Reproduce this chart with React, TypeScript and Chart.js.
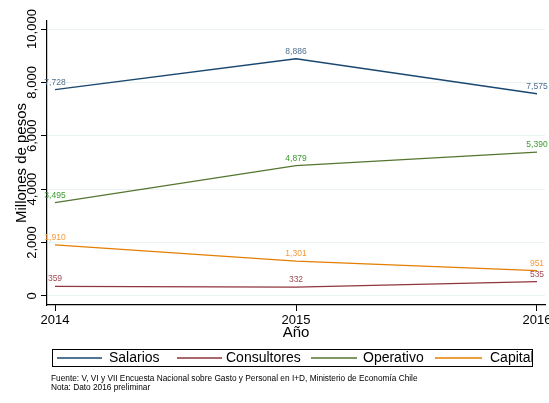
import React, { useEffect, useRef } from "react";
import { Chart, registerables } from "chart.js";

Chart.register(...registerables);

const years = [2014, 2015, 2016];
const salarios = [7728, 8886, 7575];
const consultores = [359, 332, 535];
const operativo = [3495, 4879, 5390];
const capital = [1910, 1301, 951];
const yTicks = [0, 2000, 4000, 6000, 8000, 10000];
const seriesNames = ["Salarios", "Consultores", "Operativo", "Capital"];
const lineColors = ["#1a476f", "#90353b", "#55752f", "#e37e00"];
const labelColors = ["#4f6f90", "#a04a52", "#3a9a30", "#f59a3a"];
const yTitle = "Millones de pesos";
const xTitle = "Año";
const notes = [
  "Fuente: V, VI y VII Encuesta Nacional sobre Gasto y Personal en I+D, Ministerio de Economía Chile",
  "Nota: Dato 2016 preliminar",
];

const FONT = "'Liberation Sans', Arial, Helvetica, sans-serif";
const fmt = (v: number) => v.toLocaleString("en-US");

const drawPlugin = {
  id: "stataDecor",
  afterDraw(chart: any) {
    const ctx = chart.ctx as CanvasRenderingContext2D;
    const xs = chart.scales.x;
    const ys = chart.scales.y;
    const area = chart.chartArea;
    ctx.save();
    ctx.fillStyle = "#000";
    // y tick labels (rotated)
    ctx.font = `13px ${FONT}`;
    ctx.textAlign = "center";
    ctx.textBaseline = "alphabetic";
    yTicks.forEach((t) => {
      const py = ys.getPixelForValue(t);
      ctx.save();
      ctx.translate(35.5, py);
      ctx.rotate(-Math.PI / 2);
      ctx.fillText(fmt(t), 0, 0);
      ctx.restore();
    });
    // y title
    ctx.font = `15px ${FONT}`;
    ctx.save();
    ctx.translate(26, (area.top + area.bottom) / 2);
    ctx.rotate(-Math.PI / 2);
    ctx.fillText(yTitle, 0, 0);
    ctx.restore();
    // x tick labels
    ctx.font = `13px ${FONT}`;
    years.forEach((yr) => {
      ctx.fillText(String(yr), xs.getPixelForValue(yr), 324);
    });
    ctx.font = `15px ${FONT}`;
    ctx.fillText(xTitle, (area.left + area.right) / 2, 337);

    // data labels
    ctx.font = `8.5px ${FONT}`;
    chart.data.datasets.forEach((ds: any, i: number) => {
      ctx.fillStyle = labelColors[i];
      ds.data.forEach((pt: any) => {
        const px = xs.getPixelForValue(pt.x);
        const py = ys.getPixelForValue(pt.y);
        ctx.fillText(fmt(pt.y), px, py - 5);
      });
    });

    // legend
    ctx.strokeStyle = "#000";
    ctx.lineWidth = 1;
    ctx.strokeRect(52.5, 349.5, 480, 17);
    const legendItems = [
      { x1: 57, x2: 102, tx: 109 },
      { x1: 177, x2: 222, tx: 226 },
      { x1: 311, x2: 357, tx: 363 },
      { x1: 435, x2: 482, tx: 490 },
    ];
    ctx.font = `14px ${FONT}`;
    ctx.textAlign = "left";
    ctx.textBaseline = "middle";
    legendItems.forEach((it, i) => {
      ctx.strokeStyle = lineColors[i];
      ctx.lineWidth = 1.3;
      ctx.beginPath();
      ctx.moveTo(it.x1, 358);
      ctx.lineTo(it.x2, 358);
      ctx.stroke();
      ctx.fillStyle = "#000";
      ctx.fillText(seriesNames[i], it.tx, 358.5);
    });

    // notes
    ctx.font = `8.3px ${FONT}`;
    ctx.fillText(notes[0], 51, 379);
    ctx.fillText(notes[1], 51, 388);
    ctx.restore();
  },
};

export default function App() {
  const ref = useRef<HTMLCanvasElement | null>(null);
  useEffect(() => {
    if (!ref.current) return;
    const series = [salarios, consultores, operativo, capital];
    const chart = new Chart(ref.current, {
      type: "line",
      data: {
        datasets: series.map((vals, i) => ({
          label: seriesNames[i],
          data: vals.map((v, j) => ({ x: years[j], y: v })),
          borderColor: lineColors[i],
          backgroundColor: lineColors[i],
          borderWidth: 1.3,
          pointRadius: 0,
          tension: 0,
        })),
      },
      options: {
        animation: false,
        responsive: false,
        maintainAspectRatio: false,
        layout: { padding: { left: 41, top: 21, right: 4, bottom: 92 } },
        plugins: { legend: { display: false }, tooltip: { enabled: false } },
        scales: {
          x: {
            type: "linear",
            min: 2014 - 8 / 241,
            max: 2016 + 8 / 241,
            afterBuildTicks: (s: any) => {
              s.ticks = years.map((v) => ({ value: v }));
            },
            ticks: { display: false },
            grid: { drawOnChartArea: false, tickColor: "#000", tickLength: 6, lineWidth: 1 },
            border: { color: "#000", width: 1.2 },
          },
          y: {
            type: "linear",
            min: -340,
            max: 10300,
            afterBuildTicks: (s: any) => {
              s.ticks = yTicks.map((v) => ({ value: v }));
            },
            ticks: { display: false },
            grid: { color: "#eaf2f3", tickColor: "#000", tickLength: 6, lineWidth: 1 },
            border: { color: "#000", width: 1.2 },
          },
        },
      },
      plugins: [drawPlugin],
    } as any);
    return () => chart.destroy();
  }, []);
  return (
    <div style={{ position: "absolute", left: 0, top: 0, width: 549, height: 403, background: "#fff" }}>
      <canvas ref={ref} width={549} height={403} style={{ width: 549, height: 403 }} />
    </div>
  );
}
